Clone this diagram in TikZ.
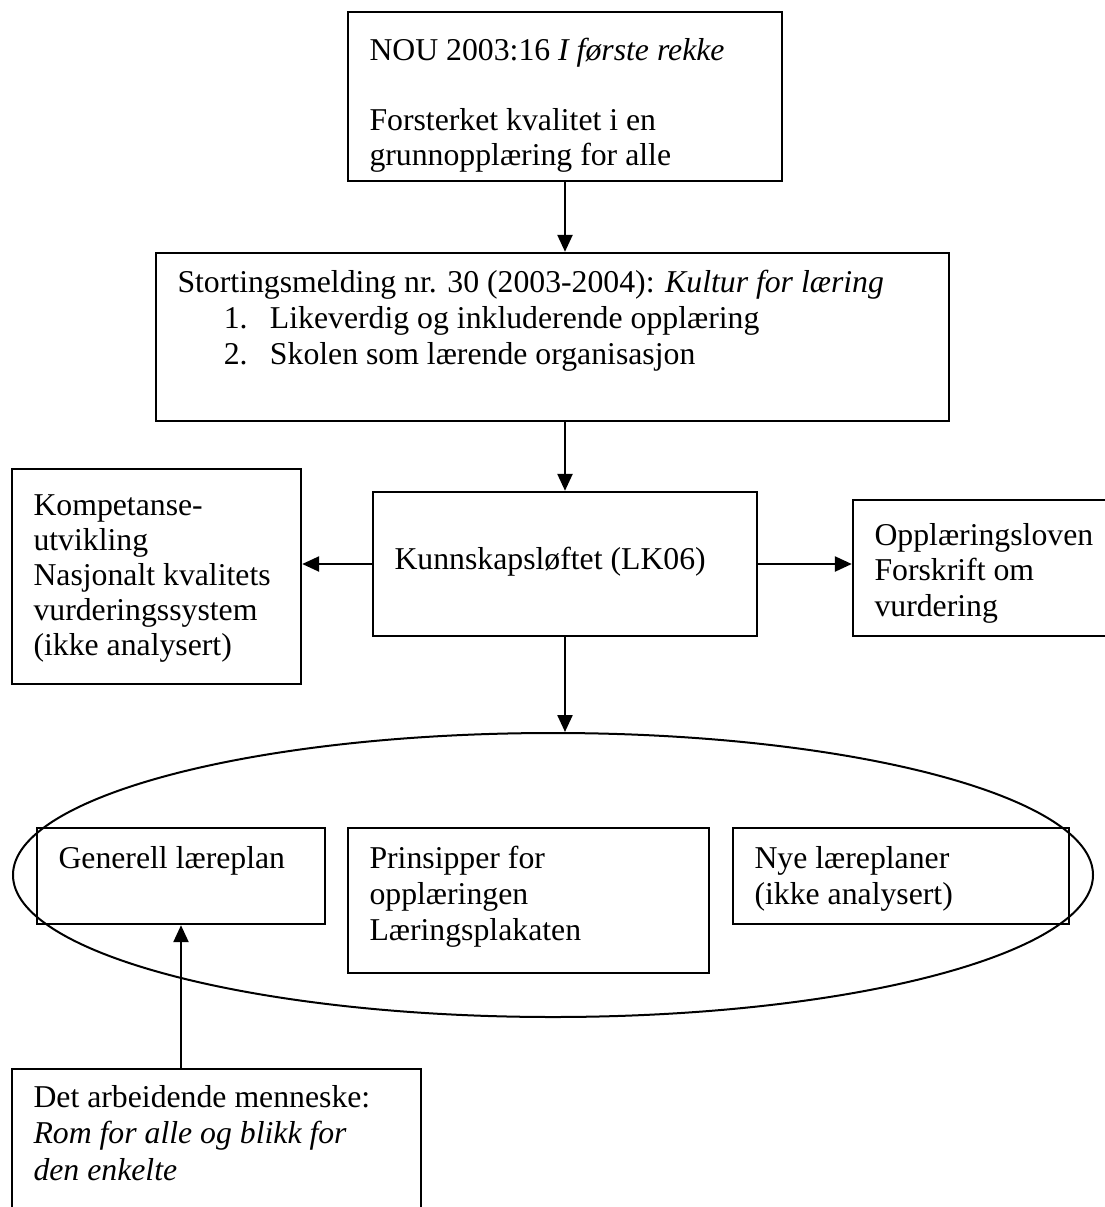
\documentclass[tikz,border=0pt]{standalone}
\usepackage{fontspec}
\setmainfont{Liberation Serif}
\usetikzlibrary{arrows.meta,fit,shapes.geometric}
\begin{document}
\begin{tikzpicture}[x=0.4pt,y=-0.4pt,
  box/.style={draw, line width=0.95pt, inner sep=0pt, rectangle},
  % multi-line texts are placed by the baseline of their last line
  txt/.style={inner sep=0pt, align=left, anchor=base west,
              font=\fontsize{12.7}{14.2}\selectfont},
  arr/.style={line width=0.95pt, -{Triangle[length=6.8pt,width=6pt]}}]
\path[use as bounding box] (0,0) rectangle (1105,1207);
\clip (0,0) rectangle (1105,1207);

% boxes
\node[box, fit={(348,12) (782,181)}] (nou) {};
\node[box, fit={(156,253) (949,421)}] (sm) {};
\node[box, fit={(373,492) (757,636)}] (lk) {};
\node[box, fit={(12,469) (301,684)}] (komp) {};
\node[box, fit={(853,500) (1125,636)}] (opp) {};
\node[draw, ellipse, line width=0.8pt, inner sep=0pt,
      minimum width=432pt, minimum height=113.6pt] (ell) at (553,875) {};
\node[box, fit={(37,828) (325,924)}] (gen) {};
\node[box, fit={(348,828) (709,973)}] (prin) {};
\node[box, fit={(733,828) (1069,924)}] (nye) {};
\node[box, fit={(12,1069) (421,1230)}] (dam) {};

% texts
\node[txt, font=\fontsize{12.7}{14}\selectfont] (t-nou) at (369,165)
  {NOU 2003:16 \textit{I første rekke}\\[14pt]Forsterket kvalitet i en\\grunnopplæring for alle};
\node[txt, font=\fontsize{12.7}{14.4}\selectfont] (t-sm) at (177,364)
  {Stortingsmelding nr. 30 (2003-2004): \textit{Kultur for læring}\\
  \hspace*{18.5pt}\makebox[18.5pt][l]{1.}Likeverdig og inkluderende opplæring\\
  \hspace*{18.5pt}\makebox[18.5pt][l]{2.}Skolen som lærende organisasjon};
\node[txt] (t-lk) at (394,569) {Kunnskapsløftet (LK06)};
\node[txt, font=\fontsize{12.7}{14}\selectfont] (t-komp) at (33,655)
  {Kompetanse-\\utvikling\\Nasjonalt kvalitets\\vurderingssystem\\(ikke analysert)};
\node[txt] (t-opp) at (874,616) {Opplæringsloven\\Forskrift om\\vurdering};
\node[txt] (t-gen) at (58,868) {Generell læreplan};
\node[txt, font=\fontsize{12.7}{14.4}\selectfont] (t-prin) at (369,940)
  {Prinsipper for\\opplæringen\\Læringsplakaten};
\node[txt, font=\fontsize{12.7}{14.4}\selectfont] (t-nye) at (754,904)
  {Nye læreplaner\\(ikke analysert)};
\node[txt, font=\fontsize{12.7}{14.6}\selectfont] (t-dam) at (33,1180)
  {Det arbeidende menneske:\\\textit{Rom for alle og blikk for}\\\textit{den enkelte}};

% connectors
\draw[arr] (nou.south) -- (nou.south |- sm.north);
\draw[arr] (lk.north |- sm.south) -- (lk.north);
\draw[arr] (lk.west) -- (lk.west -| komp.east);
\draw[arr] (lk.east) -- (lk.east -| opp.west);
\draw[arr] (lk.south) -- (lk.south |- ell.north);
\draw[arr] (gen.south |- dam.north) -- (gen.south);
\end{tikzpicture}
\end{document}
